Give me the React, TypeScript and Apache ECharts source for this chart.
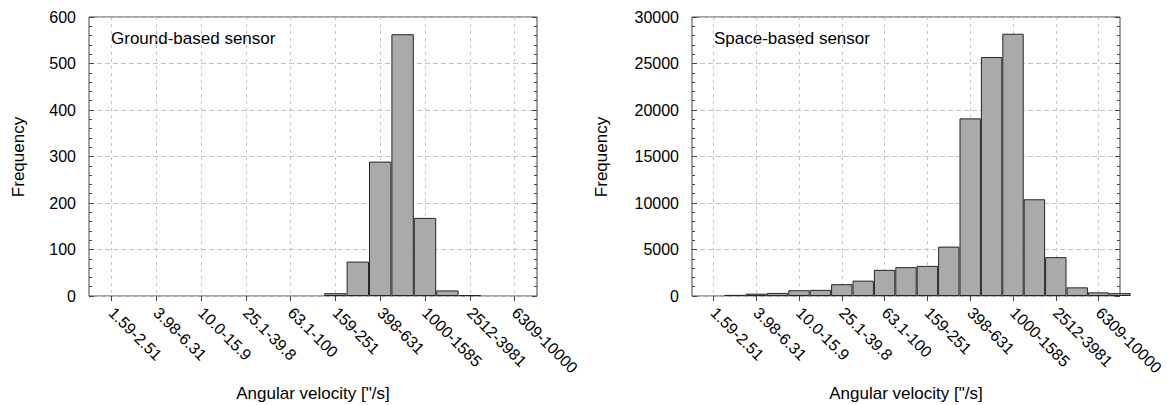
import React, { useEffect, useRef } from "react";
import * as echarts from "echarts";

// Bins of angular velocity ["/s], 0.2 decade wide; first and last bins sit at the plot edges
const binLabels = [
  "1.00-1.59", "1.59-2.51", "2.51-3.98", "3.98-6.31", "6.31-10.0", "10.0-15.9",
  "15.9-25.1", "25.1-39.8", "39.8-63.1", "63.1-100", "100-159", "159-251",
  "251-398", "398-631", "631-1000", "1000-1585", "1585-2512", "2512-3981",
  "3981-6309", "6309-10000", "10000-15849",
];
const groundCounts = [0, 0, 0, 0, 0, 0, 0, 0, 0, 0, 0, 6, 74, 289, 563, 168, 12, 2, 0, 0, 0];
const spaceCounts = [0, 0, 120, 250, 330, 620, 660, 1270, 1650, 2810, 3100, 3240, 5310, 19100, 25700, 28200, 10400, 4180, 930, 390, 310];

const groundTitle = "Ground-based sensor";
const spaceTitle = "Space-based sensor";
const xTitle = "Angular velocity [\"/s]";
const yTitle = "Frequency";

const FONT = "'Liberation Sans', Arial, sans-serif";
const BORDER = "#444444";
const GRIDC = "#c4c4c4";

const G0 = { left: 89, top: 17, width: 448, height: 279 };
const G1 = { left: 692, top: 17, width: 428, height: 279 };

const showOdd = (i: number) => i % 2 === 1;

function xAxisFor(gridIndex: number) {
  return {
    type: "category",
    gridIndex,
    data: binLabels,
    boundaryGap: false,
    axisLine: { show: false },
    axisTick: { show: true, inside: false, length: 5, interval: showOdd, lineStyle: { color: BORDER } },
    axisLabel: {
      interval: showOdd,
      rotate: -45,
      margin: 14,
      fontSize: 16,
      fontFamily: FONT,
      color: "#000",
    },
    splitLine: { show: true, interval: showOdd, lineStyle: { color: GRIDC, type: [3, 4], width: 1 } },
  };
}

function yAxesFor(gridIndex: number, max: number, interval: number) {
  const common = {
    type: "value",
    gridIndex,
    min: 0,
    max,
    interval,
    axisLine: { show: false },
    axisTick: { show: true, inside: true, length: 5, lineStyle: { color: BORDER } },
    minorTick: { show: true, splitNumber: 5, length: 3, lineStyle: { color: BORDER } },
  };
  return [
    {
      ...common,
      position: "left",
      axisLabel: {
        margin: 13,
        fontSize: 16,
        fontFamily: FONT,
        color: "#000",
        formatter: (v: number) => String(v),
      },
      splitLine: { show: true, lineStyle: { color: GRIDC, type: [5, 3], width: 1 } },
    },
    {
      ...common,
      position: "right",
      axisLabel: { show: false },
      splitLine: { show: false },
    },
  ];
}

function barSeries(xAxisIndex: number, yAxisIndex: number, values: number[]) {
  return {
    type: "bar",
    xAxisIndex,
    yAxisIndex,
    data: values.map((v) => (v === 0 ? "-" : v)),
    barWidth: "100%",
    barCategoryGap: "0%",
    clip: true,
    itemStyle: { color: "#aaaaaa", borderColor: "#262626", borderWidth: 1 },
    emphasis: { disabled: true },
  };
}

function textEl(text: string, x: number, y: number, align: string, rotation = 0) {
  return {
    type: "text",
    x,
    y,
    rotation,
    style: {
      text,
      fontSize: 17,
      fontFamily: FONT,
      fill: "#000",
      align,
      verticalAlign: "middle",
    },
  };
}

export default function App() {
  const ref = useRef<HTMLDivElement>(null);
  useEffect(() => {
    if (!ref.current) return;
    const chart = echarts.init(ref.current, undefined, { renderer: "svg" });
    chart.setOption({
      animation: false,
      backgroundColor: "#ffffff",
      grid: [
        { ...G0, show: true, borderColor: BORDER, borderWidth: 1, backgroundColor: "transparent", containLabel: false },
        { ...G1, show: true, borderColor: BORDER, borderWidth: 1, backgroundColor: "transparent", containLabel: false },
      ],
      xAxis: [xAxisFor(0), xAxisFor(1)],
      yAxis: [...yAxesFor(0, 600, 100), ...yAxesFor(1, 30000, 5000)],
      series: [barSeries(0, 0, groundCounts), barSeries(1, 2, spaceCounts)],
      graphic: [
        textEl(groundTitle, 111, 38, "left"),
        textEl(spaceTitle, 714, 38, "left"),
        textEl(yTitle, 18.5, 157, "center", Math.PI / 2),
        textEl(yTitle, 601, 157, "center", Math.PI / 2),
        textEl(xTitle, G0.left + G0.width / 2, 393.5, "center"),
        textEl(xTitle, G1.left + G1.width / 2, 393.5, "center"),
      ],
    });
    return () => chart.dispose();
  }, []);
  return (
    <div
      ref={ref}
      style={{ position: "absolute", left: 0, top: 0, width: 1167, height: 405, background: "#fff" }}
    />
  );
}
